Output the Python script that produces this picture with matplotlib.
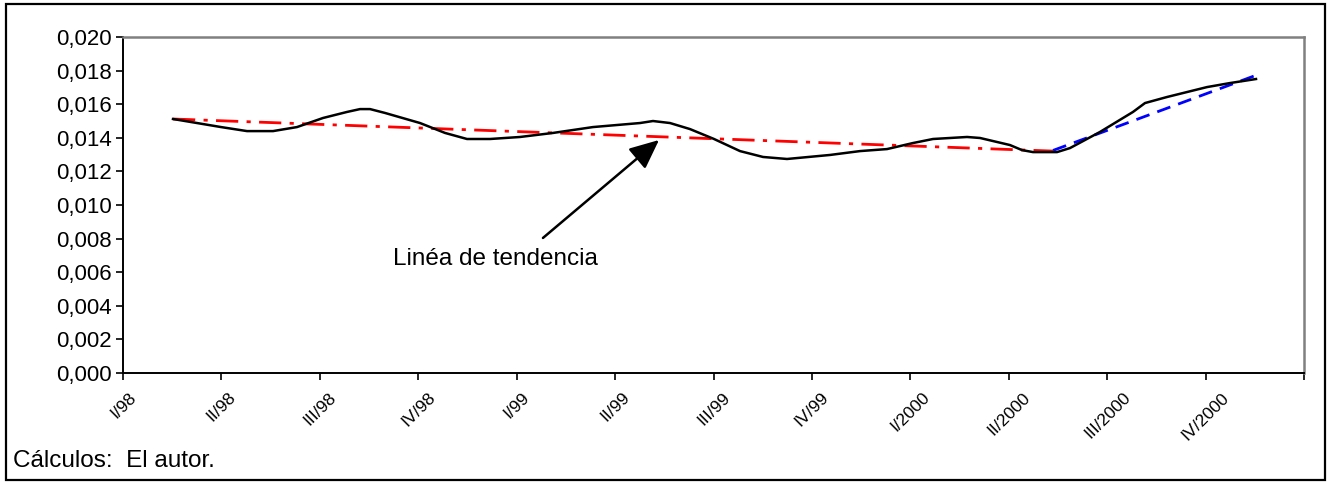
import matplotlib
matplotlib.use('Agg')
import matplotlib.pyplot as plt
from matplotlib.patches import Rectangle
from matplotlib.ticker import FuncFormatter

plt.rcParams['font.family'] = ['Liberation Sans', 'DejaVu Sans']

# Category labels (quarters)
quarter_labels = ['I/98', 'II/98', 'III/98', 'IV/98', 'I/99', 'II/99', 'III/99',
                  'IV/99', 'I/2000', 'II/2000', 'III/2000', 'IV/2000']

obs_t = [0.508, 0.996, 1.26, 1.524, 1.768, 2.032, 2.276, 2.408, 2.51, 2.662,
         3.018, 3.272, 3.495, 3.729, 4.034, 4.369, 4.775, 5.253, 5.385, 5.558,
         5.761, 6.005, 6.269, 6.503, 6.747, 7.184, 7.488, 7.763, 8.027, 8.23,
         8.576, 8.708, 9.012, 9.134, 9.246, 9.49, 9.622, 9.927, 10.262, 10.384,
         10.608, 11.014, 11.248, 11.512]
obs_v = [0.01512, 0.01464, 0.01440, 0.01440, 0.01464, 0.01518, 0.01554, 0.01571,
         0.01571, 0.01548, 0.01488, 0.01429, 0.01393, 0.01393, 0.01405, 0.01429,
         0.01464, 0.01488, 0.01500, 0.01488, 0.01452, 0.01393, 0.01321, 0.01286,
         0.01274, 0.01298, 0.01321, 0.01333, 0.01369, 0.01393, 0.01405, 0.01399,
         0.01357, 0.01327, 0.01315, 0.01315, 0.01339, 0.01435, 0.01554, 0.01607,
         0.01643, 0.01702, 0.01726, 0.01750]

# Trend line (red) and projection (blue)
trend_t = [0.508, 9.45]
trend_v = [0.01512, 0.01321]
proj_t = [9.45, 11.52]
proj_v = [0.01325, 0.01774]

# Annotation
note_text = 'Linéa de tendencia'
note_head = (5.446, 0.01387)
note_tail = (4.267, 0.00804)
note_pos = (3.78, 0.00679)

yticks = [0.000, 0.002, 0.004, 0.006, 0.008, 0.010, 0.012, 0.014, 0.016, 0.018, 0.020]

fig = plt.figure(figsize=(13.27, 4.82), dpi=100)
ax = fig.add_axes([0.0927, 0.2261, 0.89, 0.6971])

ax.plot(trend_t, trend_v, color='#FF0000', lw=2.0, ls=(0, (8, 3, 1.5, 3)), zorder=2)
ax.plot(proj_t, proj_v, color='#0000FF', lw=2.0, ls=(0, (5, 3)), zorder=2)
ax.plot(obs_t, obs_v, color='black', lw=1.8, zorder=3)

ax.set_xlim(0, 12)
ax.set_ylim(0, 0.020)
ax.set_yticks(yticks)
ax.yaxis.set_major_formatter(FuncFormatter(lambda v, p: f"{v:.3f}".replace('.', ',')))
ax.set_xticks(range(13))
ax.set_xticklabels(quarter_labels + [''], rotation=45, ha='center', fontsize=12.5)
ax.tick_params(axis='y', direction='out', length=5, width=1.2, labelsize=16, pad=3)
ax.tick_params(axis='x', direction='out', length=5, width=1.2, pad=7)

for s in ['left', 'bottom']:
    ax.spines[s].set_color('black')
    ax.spines[s].set_linewidth(1.4)
for s in ['top', 'right']:
    ax.spines[s].set_color('#808080')
    ax.spines[s].set_linewidth(1.8)

ax.annotate('', xy=note_head, xytext=note_tail,
            arrowprops=dict(arrowstyle='-|>,head_length=1.0,head_width=0.45',
                            color='black', lw=1.8, mutation_scale=18, shrinkA=0, shrinkB=0))
ax.text(note_pos[0], note_pos[1], note_text, ha='center', va='center', fontsize=17.5)

fig.patches.append(Rectangle((0.0045, 0.004), 0.994, 0.9877, transform=fig.transFigure,
                             fill=False, lw=1.6, ec='black'))
fig.text(0.0098, 0.031, 'Cálculos:  El autor.', fontsize=17.5, va='baseline', ha='left')

fig.savefig('out.png', dpi=100)
